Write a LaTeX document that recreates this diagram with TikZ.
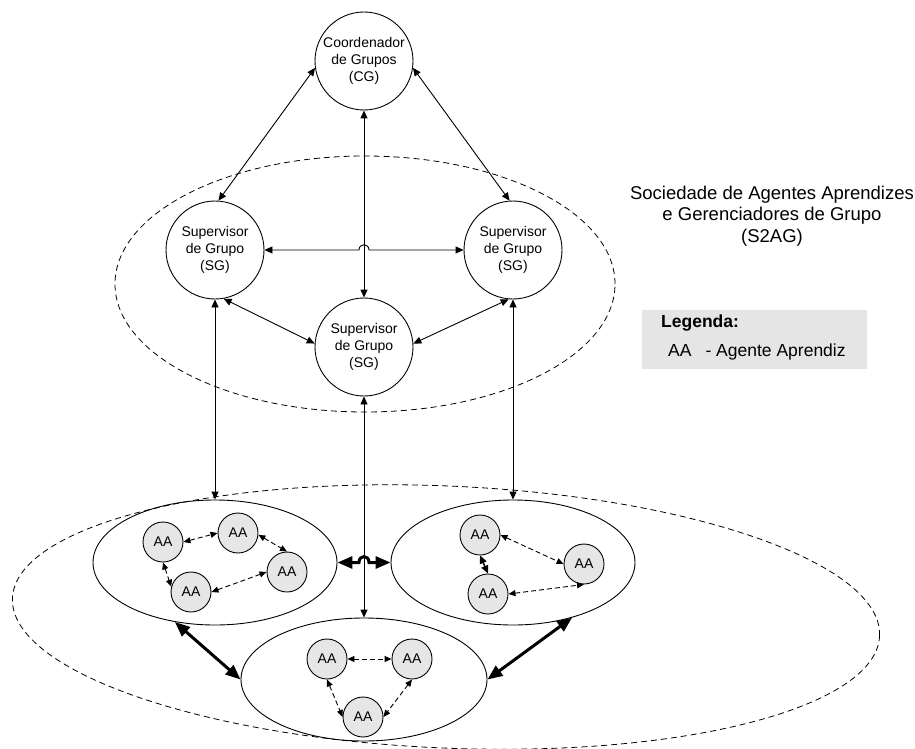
\documentclass[tikz,border=0pt]{standalone}
\usepackage{fontspec}
\setmainfont{Liberation Sans}
\usetikzlibrary{arrows.meta,shapes.geometric}
\definecolor{aagray}{RGB}{230,230,230}
\definecolor{leggray}{RGB}{229,229,229}
\begin{document}
\begin{tikzpicture}[x=1pt,y=-1pt,
  big/.style={circle, draw, line width=0.9pt, minimum size=98pt, inner sep=0pt, align=center, font=\fontsize{14}{17}\selectfont},
  aa/.style={circle, draw, fill=aagray, line width=0.9pt, minimum size=40pt, inner sep=0pt, font=\fontsize{14}{17}\selectfont},
  grp/.style={ellipse, draw, line width=0.9pt, minimum width=244pt, minimum height=125pt, inner sep=0pt},
  link/.style={line width=0.9pt, {Triangle[length=8pt,width=7pt]}-{Triangle[length=8pt,width=7pt]}},
  dlink/.style={line width=0.9pt, dash pattern=on 5pt off 3pt, {Triangle[length=7pt,width=6pt]}-{Triangle[length=7pt,width=6pt]}},
  heavy/.style={line width=3pt, {Triangle[length=15pt,width=12pt]}-{Triangle[length=15pt,width=12pt]}},
  area/.style={draw, line width=0.8pt, dash pattern=on 6pt off 4pt}
]
\useasboundingbox (0,0) rectangle (915,749);

% dashed regions
\draw[area] (365,284) ellipse [x radius=250pt, y radius=128pt];
\draw[area, rotate around={-2.5:(446,617)}] (446,617) ellipse [x radius=434pt, y radius=131pt];

% main circles
\node[big] (cg) at (364,61) {Coordenador\\de Grupos\\(CG)};
\node[big] (sgl) at (215,250) {Supervisor\\de Grupo\\(SG)};
\node[big] (sgr) at (513,250) {Supervisor\\de Grupo\\(SG)};
\node[big] (sgm) at (364,347) {Supervisor\\de Grupo\\(SG)};

% group ellipses
\node[grp] (lg) at (215,562.5) {};
\node[grp] (rg) at (513,562.5) {};
\node[grp, minimum width=246pt, minimum height=123pt] (bg) at (364,679.5) {};

% agents
\node[aa] (l1) at (163,542) {AA};
\node[aa] (l2) at (238,533) {AA};
\node[aa] (l3) at (287,572) {AA};
\node[aa] (l4) at (191,592) {AA};
\node[aa] (r1) at (480,535) {AA};
\node[aa] (r2) at (584,564) {AA};
\node[aa] (r3) at (488,594) {AA};
\node[aa] (b1) at (327,659) {AA};
\node[aa] (b2) at (412,659) {AA};
\node[aa] (b3) at (363,717) {AA};

% upper connectors
\draw[link] (cg.188) -- (sgl.86);
\draw[link] (cg.-8) -- (sgr.94);
\draw[link] (cg.south) -- (sgm.north);
\coordinate (ja) at (359,250);
\coordinate (jb) at (369,250);
\draw[link] (sgl.east) -- (ja) .. controls +(0,-7) and +(0,-7) .. (jb) -- (sgr.west);
\draw[link] (sgl.-80) -- (sgm.176);
\draw[link] (sgr.-95) -- (sgm.4);
\draw[link] (sgl.south) -- (lg.north);
\draw[link] (sgr.south) -- (rg.north);
\draw[link] (sgm.south) -- (bg.north);

% group connectors
\coordinate (jc) at (359,562.5);
\coordinate (jd) at (369,562.5);
\draw[heavy] (lg.east) -- (jc) .. controls +(0,-8) and +(0,-8) .. (jd) -- (rg.west);
\draw[heavy] (lg.-124) -- (bg.west);
\draw[heavy] (rg.-43) -- (bg.east);

% agent connectors
\draw[dlink] (l1.east) -- (l2.west);
\draw[dlink] (l2.-5) -- (l3.north);
\draw[dlink] (l3.west) -- (l4.east);
\draw[dlink] (l1.south) -- (l4.165);
\draw[dlink] (r1.east) -- (r2.west);
\draw[dlink] (r3.east) -- (r2.south);
\draw[link, line width=1.5pt] (r1.south) -- (r3.north);
\draw[dlink] (b1.east) -- (b2.west);
\draw[dlink] (b1.south) -- (b3.west);
\draw[dlink] (b2.south) -- (b3.east);

% title
\node[align=center, inner sep=0pt, font=\fontsize{18.5}{21.5}\selectfont] (title) at (772,216)
  {Sociedade de Agentes Aprendizes\\e Gerenciadores de Grupo\\(S2AG)};

% legend
\node[fill=leggray, minimum width=225pt, minimum height=59pt, inner sep=0pt, anchor=north west] (leg) at (642,310) {};
\node[anchor=west, inner sep=0pt, font=\fontsize{17.5}{20}\selectfont\bfseries] (legt) at (661,323) {Legenda:};
\node[anchor=west, inner sep=0pt, font=\fontsize{17.5}{20}\selectfont] (lega) at (668,352) {AA\hspace{14pt}- Agente Aprendiz};
\end{tikzpicture}
\end{document}
